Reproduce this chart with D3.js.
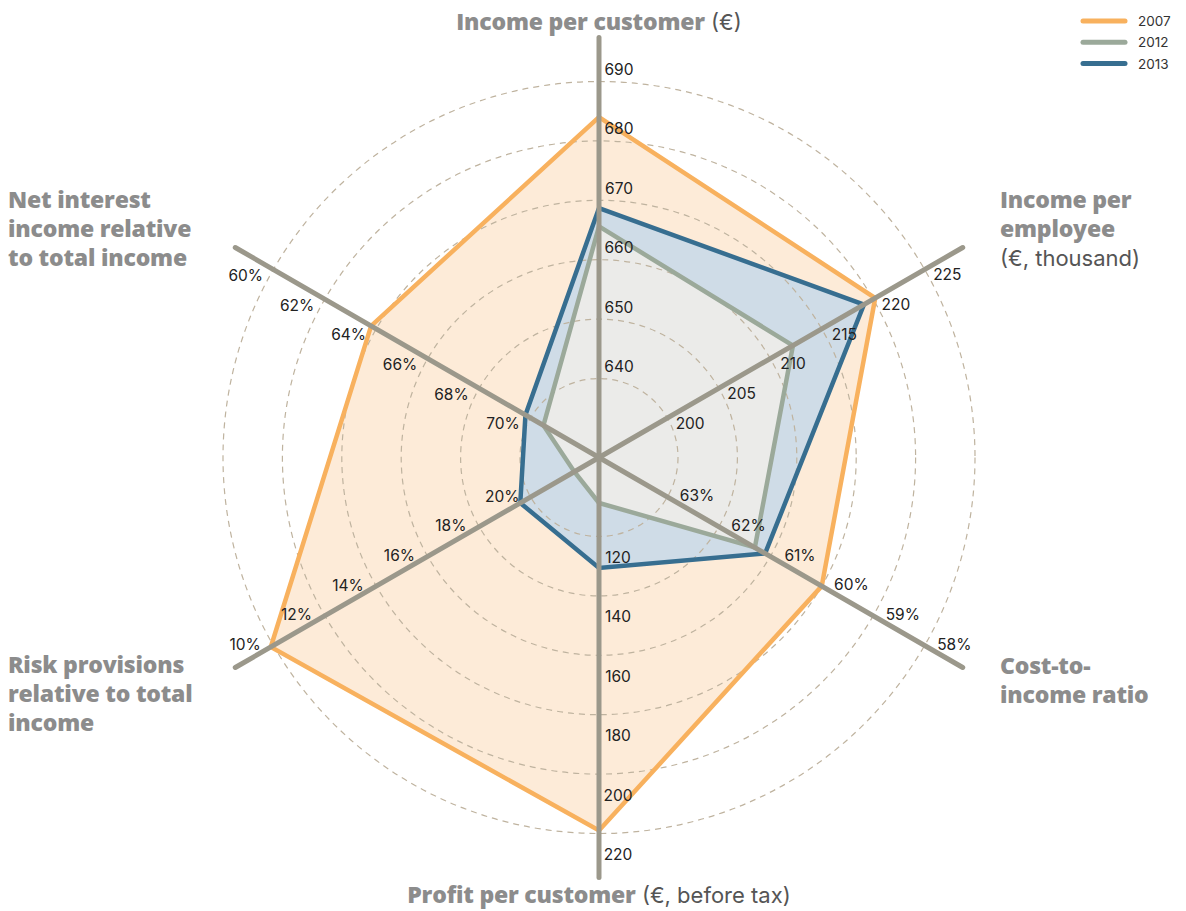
<!DOCTYPE html>
<html>
<head>
<meta charset="utf-8">
<script src="https://cdn.jsdelivr.net/npm/d3@7"></script>
<style>
  body { margin: 0; background: #fff; }
  svg { display: block; }
  .tick_label { font-family: Inter, "Open Sans", sans-serif; font-size: 15.5px; fill: #222; }
  .axis_title { font-family: "Open Sans", Lato, sans-serif; font-size: 23px; fill: #8c8c8c; font-weight: 800; letter-spacing: -0.2px; }
  .axis_title .unit { font-weight: 400; fill: #555; font-family: Inter, "Open Sans", sans-serif; font-size: 22px; letter-spacing: 0; }
  .legend_label { font-family: Inter, "Open Sans", sans-serif; font-size: 13.5px; fill: #333; }
</style>
</head>
<body>
<div id="chart"></div>
<script>
// axes, clockwise from the top
const axisNames = ["Income per customer", "Income per employee", "Cost-to-income ratio",
  "Profit per customer", "Risk provisions relative to total income", "Net interest income relative to total income"]

// tick labels per axis, inner ring to outer ring
const incomeCustomerTicks = [640, 650, 660, 670, 680, 690]
const incomeEmployeeTicks = [200, 205, 210, 215, 220, 225]
const costIncomeTicks = [63, 62, 61, 60, 59, 58]
const profitTicks = [120, 140, 160, 180, 200, 220]
const riskTicks = [20, 18, 16, 14, 12, 10]
const netInterestTicks = [70, 68, 66, 64, 62, 60]
const percentAxes = [false, false, true, false, true, true]

const years = ["2007", "2012", "2013"]
const values2007 = [684, 220.2, 60.0, 219, 9.9, 63.8]
const values2012 = [665.6, 212.2, 61.3, 108.7, 21.7, 70.5]
const values2013 = [668.7, 219.1, 61.1, 130.6, 19.6, 69.8]

const width = 1186
const height = 911
const cx = 599
const cy = 457.5
const ringInner = 79
const ringOuter = 376
const axisLength = 420

const lineColors = { "2007": "#f8b15e", "2012": "#9ba99a", "2013": "#376e90" }
const fillColors = { "2007": "#fdebd8", "2012": "#ebebe9", "2013": "#cfdce7" }

const allTicks = [incomeCustomerTicks, incomeEmployeeTicks, costIncomeTicks, profitTicks, riskTicks, netInterestTicks]
const series = [
  { year: "2007", values: values2007 },
  { year: "2013", values: values2013 },
  { year: "2012", values: values2012 }
]

// one radial scale per axis
const scales = allTicks.map(t => d3.scaleLinear()
  .domain([t[0], t[t.length - 1]])
  .range([ringInner, ringOuter]))

const angle = d3.scaleLinear().domain([0, 6]).range([-Math.PI / 2, Math.PI * 1.5])
const dir = (i) => [Math.cos(angle(i)), Math.sin(angle(i))]
const pt = (i, r) => [cx + r * dir(i)[0], cy + r * dir(i)[1]]

const svg = d3.select("#chart").append("svg")
  .attr("width", width)
  .attr("height", height)

// polygon fills
const radar = d3.line().curve(d3.curveLinearClosed)
const polyPoints = (s) => s.values.map((v, i) => pt(i, scales[i](v)))

svg.append("g").selectAll("path")
  .data(series)
  .enter()
  .append("path")
    .attr("d", d => radar(polyPoints(d)))
    .attr("fill", d => fillColors[d.year])
    .attr("stroke", "none")

// dashed rings
svg.append("g").selectAll("circle")
  .data(incomeCustomerTicks)
  .enter()
  .append("circle")
    .attr("cx", cx)
    .attr("cy", cy)
    .attr("r", d => scales[0](d))
    .attr("fill", "none")
    .attr("stroke", "#bfb39f")
    .attr("stroke-width", 1.2)
    .attr("stroke-dasharray", "6 5")

// series outlines
svg.append("g").selectAll("path")
  .data(series)
  .enter()
  .append("path")
    .attr("d", d => radar(polyPoints(d)))
    .attr("fill", "none")
    .attr("stroke", d => lineColors[d.year])
    .attr("stroke-width", 4.5)
    .attr("stroke-linejoin", "miter")

// axes
svg.append("g").selectAll("line")
  .data(d3.range(6))
  .enter()
  .append("line")
    .attr("x1", cx)
    .attr("y1", cy)
    .attr("x2", i => pt(i, axisLength)[0])
    .attr("y2", i => pt(i, axisLength)[1])
    .attr("stroke", "#9b988b")
    .attr("stroke-width", 5)
    .attr("stroke-linecap", "round")

// tick labels sit beside each axis
const side = [1, 1, -1, -1, 1, -1]
const alongOff = [12, 17, 25, 21, 24, 21]
const perpOff = [20, 16, 16, 19, 15, 19]

allTicks.forEach((ticks, i) => {
  const [dx, dy] = dir(i)
  const px = -dy * side[i]
  const py = dx * side[i]
  svg.append("g").selectAll("text")
    .data(ticks)
    .enter()
    .append("text")
      .attr("class", "tick_label")
      .attr("x", t => cx + (scales[i](t) + alongOff[i]) * dx + perpOff[i] * px)
      .attr("y", t => cy + (scales[i](t) + alongOff[i]) * dy + perpOff[i] * py)
      .attr("text-anchor", "middle")
      .attr("dominant-baseline", "central")
      .text(t => percentAxes[i] ? t + "%" : t)
})

// axis titles
function title(x, y, anchor, lines) {
  const t = svg.append("text")
    .attr("class", "axis_title")
    .attr("text-anchor", anchor)
  lines.forEach((parts, k) => {
    const line = t.append("tspan").attr("x", x).attr("y", y + k * 29)
    parts.forEach(p => {
      line.append("tspan").attr("class", p[1] ? "unit" : null).text(p[0])
    })
  })
}

title(599, 30, "middle", [[["Income per customer", false], [" (€)", true]]])
title(1000, 208, "start", [[["Income per", false]], [["employee", false]], [["(€, thousand)", true]]])
title(1000, 674, "start", [[["Cost-to-", false]], [["income ratio", false]]])
title(599, 903, "middle", [[["Profit per customer", false], [" (€, before tax)", true]]])
title(8, 673, "start", [[["Risk provisions", false]], [["relative to total", false]], [["income", false]]])
title(8, 208, "start", [[["Net interest", false]], [["income relative", false]], [["to total income", false]]])

// legend
const legend = svg.append("g").attr("transform", "translate(1083,21)")
const legendItems = legend.selectAll("g")
  .data(years)
  .enter()
  .append("g")
    .attr("transform", (d, i) => `translate(0,${i * 21.3})`)
legendItems.append("line")
  .attr("x1", 0).attr("x2", 42)
  .attr("stroke", d => lineColors[d])
  .attr("stroke-width", 5)
  .attr("stroke-linecap", "round")
legendItems.append("text")
  .attr("class", "legend_label")
  .attr("x", 55)
  .attr("dominant-baseline", "central")
  .text(d => d)
</script>
</body>
</html>
